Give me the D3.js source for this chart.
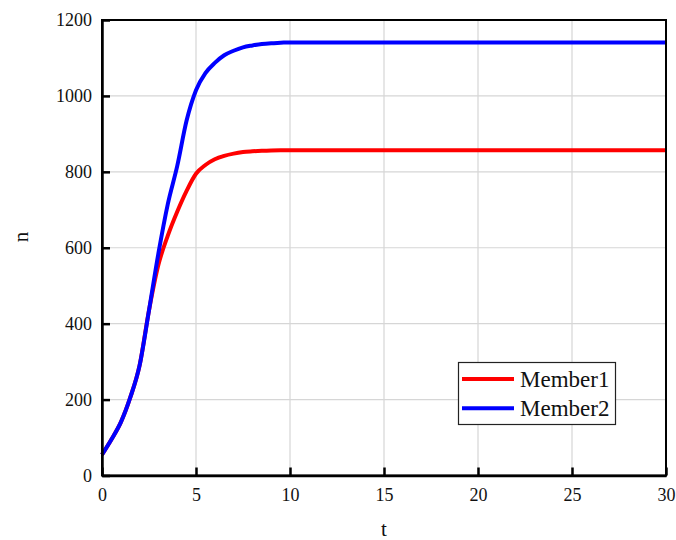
<!DOCTYPE html>
<html>
<head>
<meta charset="utf-8">
<script src="https://cdn.jsdelivr.net/npm/d3@7/dist/d3.min.js"></script>
<style>
  html, body { margin: 0; padding: 0; background: #fff; }
  svg text { font-family: "Liberation Serif", "Times New Roman", serif !important; fill: #111; }
</style>
</head>
<body>
<svg id="chart" width="676" height="540"></svg>
<script>
// Time points (t) and population sizes (n) for each member
const tValues = [0, 0.5, 1, 1.5, 2, 2.5, 3, 3.5, 4, 4.5, 5, 5.5, 6, 6.5, 7, 7.5, 8, 8.5, 9, 9.5, 10,
                 11, 12, 13, 14, 15, 16, 17, 18, 19, 20, 21, 22, 23, 24, 25, 26, 27, 28, 29, 30];
const member1 = [55, 95, 140, 205, 290, 435, 555, 632, 695, 750, 795, 818, 833, 842, 848, 852, 854, 855.5, 856.5, 857, 857,
                 857, 857, 857, 857, 857, 857, 857, 857, 857, 857, 857, 857, 857, 857, 857, 857, 857, 857, 857, 857];
const member2 = [55, 95, 140, 205, 290, 435, 585, 715, 815, 935, 1015, 1060, 1087, 1107, 1119, 1128, 1133, 1137, 1139, 1140, 1141,
                 1141, 1141, 1141, 1141, 1141, 1141, 1141, 1141, 1141, 1141, 1141, 1141, 1141, 1141, 1141, 1141, 1141, 1141, 1141, 1141];
const seriesNames = ["Member1", "Member2"];
const seriesColors = ["#ff0000", "#0000ff"];
const xTicks = [0, 5, 10, 15, 20, 25, 30];
const yTicks = [0, 200, 400, 600, 800, 1000, 1200];

const svg = d3.select("#chart");
const plot = { left: 102, right: 666, top: 20, bottom: 475.5 };

const x = d3.scaleLinear().domain([0, 30]).range([plot.left, plot.right]);
const y = d3.scaleLinear().domain([0, 1200]).range([plot.bottom, plot.top]);

// Grid lines
svg.append("g").selectAll("line").data(xTicks.slice(1, -1)).join("line")
  .attr("x1", d => x(d)).attr("x2", d => x(d))
  .attr("y1", plot.top).attr("y2", plot.bottom)
  .attr("stroke", "#d6d6d6").attr("stroke-width", 1.2);
svg.append("g").selectAll("line").data(yTicks.slice(1, -1)).join("line")
  .attr("x1", plot.left).attr("x2", plot.right)
  .attr("y1", d => y(d)).attr("y2", d => y(d))
  .attr("stroke", "#d6d6d6").attr("stroke-width", 1.2);

// Curves
const line = d3.line().x((d, i) => x(tValues[i])).y(d => y(d)).curve(d3.curveMonotoneX);
[member1, member2].forEach((vals, k) => {
  svg.append("path").datum(vals)
    .attr("d", line)
    .attr("fill", "none")
    .attr("stroke", seriesColors[k])
    .attr("stroke-width", 4)
    .attr("stroke-linejoin", "round");
});

// Frame
svg.append("rect")
  .attr("x", plot.left).attr("y", plot.top)
  .attr("width", plot.right - plot.left).attr("height", plot.bottom - plot.top)
  .attr("fill", "none").attr("stroke", "#000").attr("stroke-width", 2);

// Axes with inward ticks
const xAxis = d3.axisBottom(x).tickValues(xTicks).tickFormat(d3.format("d"))
  .tickSizeInner(-8).tickSizeOuter(0).tickPadding(13);
const gx = svg.append("g").attr("transform", `translate(0,${plot.bottom})`).call(xAxis);
gx.attr("font-family", null);
gx.select(".domain").attr("stroke", "#000").attr("stroke-width", 2.5);
gx.selectAll(".tick line").attr("stroke", "#000").attr("stroke-width", 2.5);
gx.selectAll(".tick text").style("font-size", "18px");

const yAxis = d3.axisLeft(y).tickValues(yTicks).tickFormat(d3.format("d"))
  .tickSizeInner(-8).tickSizeOuter(0).tickPadding(10);
const gy = svg.append("g").attr("transform", `translate(${plot.left},0)`).call(yAxis);
gy.attr("font-family", null);
gy.select(".domain").attr("stroke", "#000").attr("stroke-width", 2.5);
gy.selectAll(".tick line").attr("stroke", "#000").attr("stroke-width", 2.5);
gy.selectAll(".tick text").style("font-size", "18px");

// Axis titles
svg.append("text").attr("x", 384).attr("y", 536).attr("text-anchor", "middle")
  .style("font-size", "21px").text("t");
svg.append("text").attr("transform", "translate(28,237) rotate(-90)").attr("text-anchor", "middle")
  .style("font-size", "21px").text("n");

// Legend
const legend = svg.append("g");
legend.append("rect").attr("x", 458.5).attr("y", 362.5).attr("width", 157).attr("height", 62)
  .attr("fill", "#fff").attr("stroke", "#222").attr("stroke-width", 1.2);
seriesNames.forEach((name, k) => {
  const ly = 379 + k * 29.3;
  legend.append("line").attr("x1", 462).attr("x2", 514).attr("y1", ly).attr("y2", ly)
    .attr("stroke", seriesColors[k]).attr("stroke-width", 4);
  legend.append("text").attr("x", 520).attr("y", ly + 8).style("font-size", "23px").text(name);
});
</script>
</body>
</html>
